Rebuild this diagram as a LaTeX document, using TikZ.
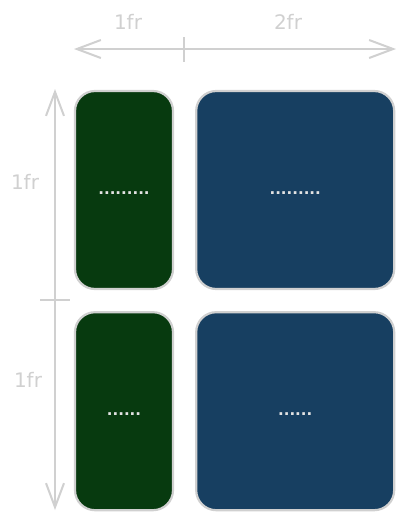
\documentclass[tikz,border=0pt]{standalone}
\usepackage{fontspec}
\setmainfont{DejaVu Sans}
\usetikzlibrary{positioning,arrows.meta}
\definecolor{cellgreen}{HTML}{073A0F}
\definecolor{cellblue}{HTML}{173F61}
\definecolor{rulegray}{HTML}{D0D0D0}
\tikzset{
	cell/.style={draw=rulegray, line width=2.2pt, rounded corners=20pt, minimum height=198pt, inner sep=0pt, text height=9pt, text depth=0pt, text=rulegray!60!white, font=\fontsize{15}{15}\selectfont\bfseries},
	frlabel/.style={text=rulegray, font=\fontsize{20}{22}\selectfont},
	ruler/.style={draw=rulegray, line width=2pt}
}
\begin{document}
\begin{tikzpicture}[x=1pt, y=-1pt]
		\useasboundingbox (0,0) rectangle (404,520);
		\node (g1) [cell, fill=cellgreen, minimum width=98pt] at (124,190) {.........};
		\node (b1) [cell, fill=cellblue, minimum width=198pt, right=21pt of g1] {.........};
		\node (g2) [cell, fill=cellgreen, minimum width=98pt, below=21pt of g1] {......};
		\node (b2) [cell, fill=cellblue, minimum width=198pt, below=21pt of b1] {......};
		\coordinate (hl) at (74,49);
		\coordinate (hr) at (396,49);
		\coordinate (ht1) at (184,37);
		\coordinate (ht2) at (184,62);
		\coordinate (vt) at (55,89);
		\coordinate (vb) at (55,510);
		\coordinate (vt1) at (40,300);
		\coordinate (vt2) at (70,300);
		\node (c1) [frlabel] at (128,22) {1fr};
		\node (c2) [frlabel] at (288,22) {2fr};
		\node (r1) [frlabel] at (25,182) {1fr};
		\node (r2) [frlabel] at (28,380) {1fr};
		\draw [ruler, {Straight Barb[length=24pt,width=18pt]}-{Straight Barb[length=24pt,width=18pt]}] (hl) -- (hr);
		\draw [ruler] (ht1) -- (ht2);
		\draw [ruler, {Straight Barb[length=24pt,width=18pt]}-{Straight Barb[length=24pt,width=18pt]}] (vt) -- (vb);
		\draw [ruler] (vt1) -- (vt2);
		\end{tikzpicture}
\end{document}
